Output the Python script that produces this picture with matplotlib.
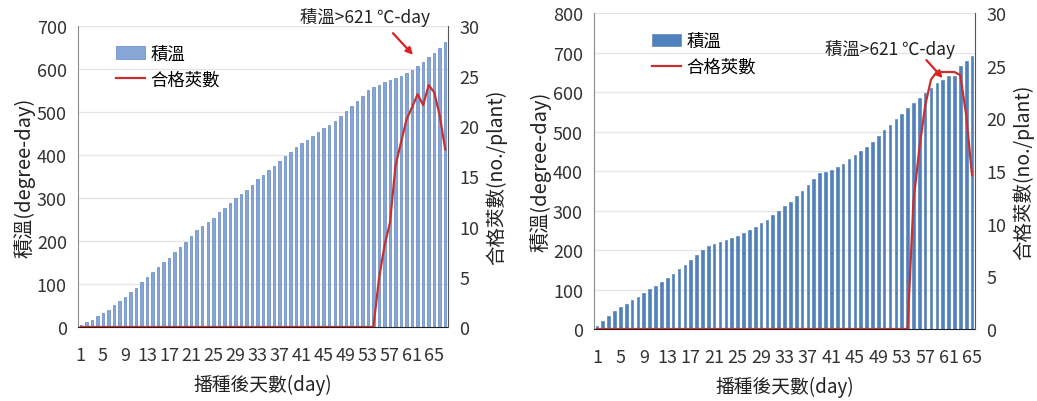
import matplotlib.pyplot as plt
import numpy as np

plt.rcParams['font.family'] = ['Noto Sans CJK TC', 'DejaVu Sans']

# left panel: 67 days after sowing
left_gdd = [5, 11, 17, 25, 33, 40, 51, 60, 70, 81,
            91, 105, 116, 129, 139, 150, 161, 175, 187, 198,
            212, 226, 234, 243, 253, 267, 277, 288, 300, 309,
            319, 330, 343, 354, 366, 375, 387, 398, 408, 418,
            427, 435, 445, 454, 462, 470, 480, 490, 503, 515,
            526, 538, 551, 557, 563, 569, 574, 578, 583, 590,
            598, 608, 617, 627, 637, 649, 662]
left_pods = [0] * 53 + [0, 4.8, 8.1, 10.4, 16.1, 18.4, 20.7, 21.9, 23.2,
                        22.1, 24.1, 23.4, 21.1, 17.7]

# right panel: 65 days after sowing
right_gdd = [8, 21, 34, 45, 55, 63, 73, 82, 91, 101,
             110, 118, 128, 138, 152, 162, 175, 188, 200, 209,
             216, 221, 225, 230, 235, 242, 251, 257, 268, 277,
             289, 300, 312, 322, 337, 350, 365, 380, 395, 398,
             403, 410, 419, 430, 440, 451, 462, 474, 489, 504,
             516, 532, 544, 559, 572, 585, 597, 609, 623, 631,
             640, 640, 667, 678, 690]
right_pods = [0] * 53 + [0, 12.1, 17.1, 21.2, 23.7, 24.4, 24.4, 24.4, 24.4,
                         24.1, 20.3, 14.6]

legend_bar = '積溫'
legend_line = '合格莢數'
note = '積溫>621 ℃-day'


def draw_panel(rect, gdd, pods, ymax, bar_color, bar_edge, note_pos, legend_pos, rpad):
    ax = fig.add_axes(rect)
    n = len(gdd)
    x = np.arange(n)
    days = x + 1
    bars = ax.bar(x, gdd, width=0.45, color=bar_color, edgecolor=bar_edge,
                  linewidth=0.4, zorder=2, label=legend_bar)
    ax.set_xlim(-0.5, n - 0.5)
    ax.set_ylim(0, ymax)
    ax.set_yticks(np.arange(0, ymax + 1, 100))
    ticks = [i for i in x if days[i] % 4 == 1]
    ax.set_xticks(ticks)
    ax.set_xticklabels([str(days[i]) for i in ticks])
    ax.tick_params(length=0, labelsize=13, colors='#333333', pad=8)
    ax.tick_params(axis='x', pad=14)
    ax.grid(axis='y', color='#e4e4e4', linewidth=0.9, zorder=0)
    ax.set_axisbelow(True)
    for s in ['top', 'right']:
        ax.spines[s].set_visible(False)
    ax.spines['left'].set_color('#8c8c8c')
    ax.spines['bottom'].set_color('#222222')
    ax.set_xlabel('播種後天數(day)', fontsize=13.5, color='#222222',
                  labelpad=7, fontweight='medium')
    ax.set_ylabel('積溫(degree-day)', fontsize=14.5, color='#222222',
                  labelpad=1, fontweight='medium')

    ax2 = ax.twinx()
    line, = ax2.plot(x, pods, color='#c8302f', linewidth=1.6, zorder=3,
                     label=legend_line)
    ax2.set_ylim(0, 30)
    ax2.set_yticks(range(0, 31, 5))
    ax2.tick_params(length=0, labelsize=13, colors='#333333', pad=8)
    for s in ['top', 'left', 'bottom']:
        ax2.spines[s].set_visible(False)
    ax2.spines['right'].set_color('#555555')
    ax2.set_ylabel('合格莢數(no./plant)', fontsize=14, color='#222222',
                   labelpad=rpad, fontweight='medium')

    ax2.legend([bars, line], [legend_bar, legend_line], loc='upper left',
               bbox_to_anchor=legend_pos, frameon=False,
               handlelength=1.7, handletextpad=0.3, labelspacing=0.45,
               prop={'size': 12.5, 'weight': 'medium'})

    tx, ty, hx, hy, ex, ey = note_pos
    ax.annotate('', xy=(ex, ey), xytext=(hx, hy), annotation_clip=False,
                arrowprops=dict(arrowstyle='-|>', color='#e02020', lw=1.6,
                                mutation_scale=10), zorder=5)
    ax.text(tx, ty, note, ha='center', va='center', fontsize=12.5,
            color='#222222', clip_on=False, fontweight='medium')
    return ax


fig = plt.figure(figsize=(10.37, 4.02), dpi=100)

draw_panel([0.0752, 0.1841, 0.3568, 0.7488], left_gdd, left_pods, 700,
           '#86a6d8', '#4a74b6', (51.4, 721, 56.2, 688, 60.5, 628),
           (0.06, 0.99), 5)
draw_panel([0.5728, 0.1791, 0.3674, 0.786], right_gdd, right_pods, 800,
           '#4f81bd', '#4a78b2', (50.0, 709, 55.9, 686, 59.3, 630),
           (0.11, 0.99), 5)

fig.savefig('out.png', dpi=100)
